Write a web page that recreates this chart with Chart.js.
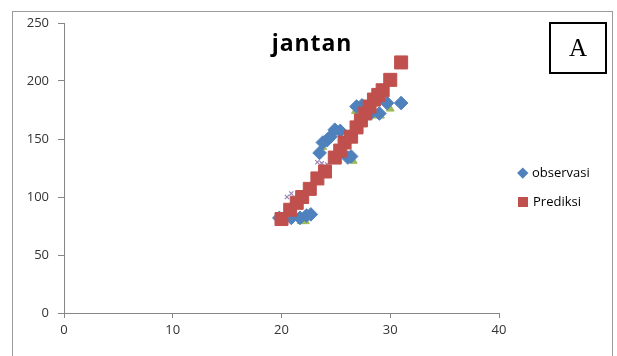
<!DOCTYPE html>
<html><head><meta charset="utf-8">
<script src="https://cdn.jsdelivr.net/npm/chart.js@4.4.1/dist/chart.umd.min.js"></script>
<style>
html,body{margin:0;padding:0;background:#fff;}
#wrap{position:relative;width:617px;height:356px;overflow:hidden;}
#c{position:absolute;left:0;top:0;}
#frame{position:absolute;left:12px;top:11px;width:601px;height:420px;border:1.5px solid #9a9a9a;box-sizing:border-box;}
#title{position:absolute;left:252px;top:27px;width:120px;text-align:center;font:bold 23px 'Open Sans';line-height:31px;color:#000;letter-spacing:0.9px;}
#boxA{position:absolute;left:549px;top:22px;width:58px;height:52px;border:2px solid #000;box-sizing:border-box;font:25px 'Liberation Serif';color:#000;display:flex;align-items:center;justify-content:center;}
.leg{position:absolute;font:13px 'Open Sans';line-height:18px;color:#000;}
.mk{position:absolute;}
</style></head>
<body>
<div id="wrap">
<canvas id="c" width="617" height="356"></canvas>
<div id="frame"></div>
<div id="title">jantan</div>
<div id="boxA">A</div>
<div class="mk" style="left:519px;top:169px;width:7.5px;height:7.5px;background:#4F81BD;transform:rotate(45deg);"></div>
<div class="leg" style="left:532px;top:163px;">observasi</div>
<div class="mk" style="left:518px;top:197px;width:10px;height:10px;background:#C0504D;"></div>
<div class="leg" style="left:533px;top:192px;">Prediksi</div>
</div>
<script>
// ---- data ----
const xTicks = [0, 10, 20, 30, 40];
const yTicks = [0, 50, 100, 150, 200, 250];

const prediksiX = [20.0, 20.8, 21.4, 21.9, 22.6, 23.3, 24.0, 24.9, 25.4, 25.8, 26.4, 26.9, 27.3, 27.7, 28.1, 28.5, 28.9, 29.3, 30.0, 31.0];
const prediksiY = [81, 89, 95, 100, 107, 116, 122, 134, 140, 147, 152, 160, 166, 172, 178, 184, 188, 192, 201, 216];

const observasiX = [19.8, 20.9, 21.7, 22.3, 22.7, 23.5, 23.8, 24.2, 24.5, 24.9, 25.4, 26.1, 26.4, 26.9, 27.4, 28.3, 29.0, 29.7, 31.0];
const observasiY = [82, 82, 82, 84, 85, 138, 147, 149, 152, 158, 157, 134, 135, 178, 179, 173, 172, 181, 181];

const hiddenGreenX = [21.8, 22.2, 23.8, 24.4, 26.6, 26.8, 29.1, 30.0, 28.4];
const hiddenGreenY = [79, 79, 143, 152, 131, 174, 170, 176, 170];

const hiddenPurpleX = [20.5, 20.9, 23.3, 23.7, 24.2];
const hiddenPurpleY = [100, 103, 130, 129, 128];

const toPts = (xs, ys) => xs.map((x, i) => ({x: x, y: ys[i]}));

const axisColor = '#868686';
const tickFont = {family: 'Open Sans', size: 13};

new Chart(document.getElementById('c'), {
  type: 'scatter',
  data: {
    datasets: [
      {label: 'Prediksi', data: toPts(prediksiX, prediksiY), pointStyle: 'rect', pointRadius: 9.2,
       backgroundColor: '#C0504D', borderColor: '#C0504D', borderWidth: 1, order: 0},
      {label: 'observasi', data: toPts(observasiX, observasiY), pointStyle: 'rectRot', pointRadius: 6.8,
       backgroundColor: '#4F81BD', borderColor: '#4F81BD', borderWidth: 1, order: 1},
      {label: 'g', data: toPts(hiddenGreenX, hiddenGreenY), pointStyle: 'triangle', pointRadius: 4.5,
       backgroundColor: '#9BBB59', borderColor: '#9BBB59', borderWidth: 1, order: 2},
      {label: 'p', data: toPts(hiddenPurpleX, hiddenPurpleY), pointStyle: 'crossRot', pointRadius: 3,
       backgroundColor: '#8064A2', borderColor: 'rgba(128,100,162,0.8)', borderWidth: 1.2, order: 3}
    ]
  },
  options: {
    responsive: false,
    animation: false,
    events: [],
    layout: {padding: {left: 13, right: 118, top: 23, bottom: 0}},
    plugins: {legend: {display: false}, tooltip: {enabled: false}, title: {display: false}},
    scales: {
      x: {
        type: 'linear', min: 0, max: 40,
        afterBuildTicks: s => { s.ticks = xTicks.map(v => ({value: v})); },
        afterFit: s => { s.height = 43; },
        grid: {drawOnChartArea: false, drawTicks: true, tickLength: 5, color: axisColor},
        border: {display: true, color: axisColor, width: 1},
        ticks: {color: '#333', font: tickFont, padding: 4, maxRotation: 0}
      },
      y: {
        type: 'linear', min: 0, max: 250,
        afterBuildTicks: s => { s.ticks = yTicks.map(v => ({value: v})); },
        afterFit: s => { s.width = 51; },
        grid: {drawOnChartArea: false, drawTicks: true, tickLength: 6, color: axisColor},
        border: {display: true, color: axisColor, width: 1},
        ticks: {color: '#333', font: tickFont, padding: 9}
      }
    }
  }
});
</script>
</body></html>
